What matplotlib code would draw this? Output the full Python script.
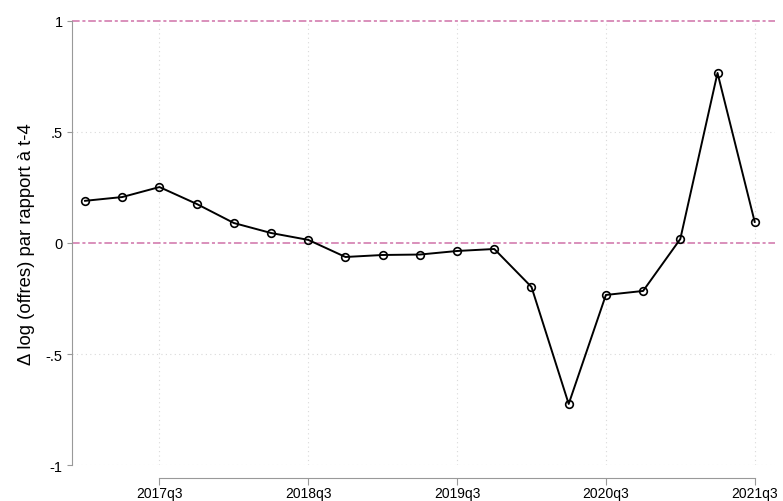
import numpy as np
import matplotlib.pyplot as plt

plt.rcParams['font.family'] = ['Liberation Sans', 'DejaVu Sans']

# quarters 2017q1 .. 2021q3
quarters = ['2017q1', '2017q2', '2017q3', '2017q4', '2018q1', '2018q2', '2018q3', '2018q4',
            '2019q1', '2019q2', '2019q3', '2019q4', '2020q1', '2020q2', '2020q3', '2020q4',
            '2021q1', '2021q2', '2021q3']
dlog_offres = [0.19, 0.207, 0.252, 0.176, 0.09, 0.045, 0.014, -0.063,
               -0.054, -0.052, -0.036, -0.027, -0.198, -0.725, -0.234, -0.216,
               0.018, 0.766, 0.095]
xtick_labels = ['2017q3', '2018q3', '2019q3', '2020q3', '2021q3']
yticks = [-1, -0.5, 0, 0.5, 1]
ytick_labels = ['-1', '-.5', '0', '.5', '1']

x = np.arange(len(quarters))
xticks = [quarters.index(q) for q in xtick_labels]

fig = plt.figure(figsize=(7.83, 5.02), dpi=100)
ax = fig.add_axes([0.092, 0.0717, 0.898, 0.8845])

# grid
for xt in xticks:
    ax.axvline(xt, color='#d9d9d9', lw=0.8, ls=(0, (1, 3)), zorder=0)
for yt in [-1, -0.5, 0.5]:
    ax.axhline(yt, color='#d9d9d9', lw=0.8, ls=(0, (1, 3)), zorder=0)

# reference lines
for yr in [0, 1]:
    ax.axhline(yr, color='#cf72a8', lw=1.1, ls=(0, (5, 1.8, 2, 1.8)), zorder=1,
               clip_on=False)

ax.plot(x, dlog_offres, color='black', lw=1.4, marker='o', ms=5.5,
        mfc='none', mec='black', mew=1.2, zorder=3)

ax.set_xlim(-0.35, 18.55)
ax.set_ylim(-1, 1)

ax.set_xticks(xticks)
ax.set_xticklabels(xtick_labels, fontsize=10.5)
ax.set_yticks(yticks)
ax.set_yticklabels(ytick_labels, fontsize=10.5)

for s in ['top', 'right']:
    ax.spines[s].set_visible(False)
ax.spines['left'].set_color('#999999')
ax.spines['bottom'].set_color('#999999')
ax.spines['bottom'].set_position(('outward', 9.4))
ax.spines['bottom'].set_bounds(xticks[0], xticks[-1])
ax.spines['left'].set_bounds(-1, 1)
ax.tick_params(axis='x', length=5, color='#999999', pad=1)
ax.tick_params(axis='y', length=3.6, color='#999999', pad=3)

ax.set_ylabel('Δ log (offres) par rapport à t-4', fontsize=13.3, labelpad=8)

fig.savefig('out.png', dpi=100)
